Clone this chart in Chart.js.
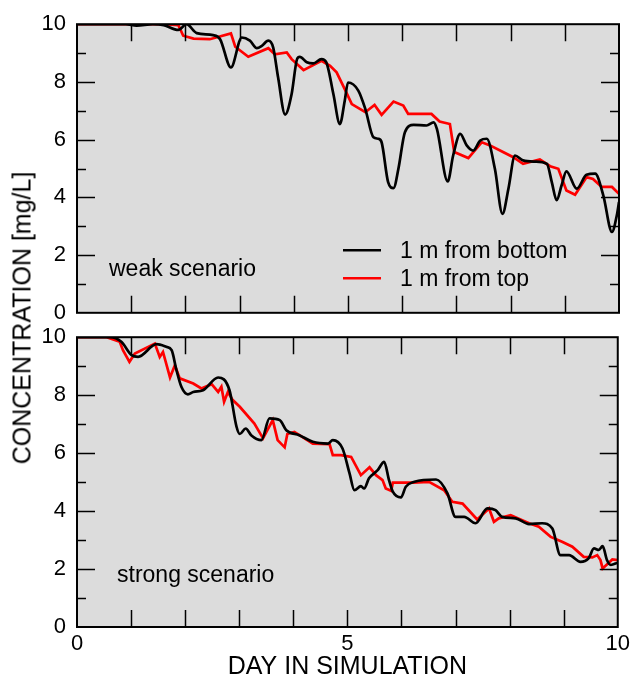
<!DOCTYPE html>
<html>
<head>
<meta charset="utf-8">
<script src="https://cdn.jsdelivr.net/npm/chart.js@4/dist/chart.umd.min.js"></script>
<style>
  body { margin: 0; background: #fff; }
  #wrap { position: relative; width: 634px; height: 685px; font-family: 'Liberation Sans', Arial, sans-serif; }
  canvas { position: absolute; left: 0; }
  #c1 { top: 0; }
  #c2 { top: 313px; }
  #ytitle {
    position: absolute; left: 22px; top: 318px; white-space: nowrap;
    font-size: 25px; color: #000;
    transform: translate(-50%, -50%) rotate(-90deg);
  }
</style>
</head>
<body>
<div id="wrap">
  <canvas id="c1" width="634" height="337"></canvas>
  <canvas id="c2" width="634" height="372"></canvas>
  <div id="ytitle">CONCENTRATION [mg/L]</div>
</div>
<script>
// weak scenario, 1 m from bottom
const weakBottomDays = [0, 0.9, 1.1, 1.4, 1.6, 1.87, 2.02, 2.21, 2.51, 2.64, 2.84, 3.04, 3.19, 3.32, 3.41, 3.53, 3.62, 3.71, 3.84, 3.96, 4.06, 4.11, 4.24, 4.36, 4.51, 4.6, 4.73, 4.85, 4.94, 5.0, 5.19, 5.32, 5.47, 5.56, 5.62, 5.74, 5.84, 5.93, 6.05, 6.21, 6.45, 6.58, 6.64, 6.84, 6.94, 7.07, 7.19, 7.31, 7.44, 7.56, 7.71, 7.85, 7.96, 8.08, 8.23, 8.45, 8.67, 8.76, 8.85, 8.94, 9.03, 9.22, 9.4, 9.56, 9.71, 9.87, 9.96, 10.0]
const weakBottomConc = [10, 10, 9.95, 10, 9.97, 9.8, 10.0, 9.69, 9.62, 9.48, 8.5, 9.54, 9.43, 9.17, 9.25, 9.43, 9.19, 8.16, 6.87, 7.58, 8.79, 8.87, 8.68, 8.64, 8.79, 8.68, 7.58, 6.54, 7.35, 7.98, 7.7, 7.06, 6.08, 6.03, 5.91, 4.53, 4.32, 4.99, 6.26, 6.51, 6.49, 6.6, 6.37, 4.55, 5.45, 6.2, 5.8, 5.62, 5.97, 6.03, 4.99, 3.43, 4.3, 5.45, 5.28, 5.24, 5.16, 4.53, 3.9, 4.41, 4.9, 4.3, 4.78, 4.82, 4.07, 2.8, 3.38, 3.84]

// weak scenario, 1 m from top
const weakTopDays = [0, 1.6, 1.87, 1.96, 2.15, 2.45, 2.84, 2.92, 3.16, 3.53, 3.65, 3.87, 3.96, 4.18, 4.51, 4.67, 4.79, 4.94, 5.07, 5.32, 5.49, 5.62, 5.84, 6.02, 6.11, 6.54, 6.69, 6.88, 6.96, 7.22, 7.47, 7.62, 7.86, 8.05, 8.23, 8.54, 8.73, 8.88, 9.03, 9.19, 9.4, 9.52, 9.68, 9.87, 10.0]
const weakTopConc = [10, 10, 9.97, 9.6, 9.5, 9.48, 9.68, 9.22, 8.87, 9.17, 8.96, 9.02, 8.79, 8.41, 8.73, 8.56, 8.33, 7.75, 7.23, 6.95, 7.2, 6.86, 7.32, 7.18, 6.89, 6.89, 6.63, 6.54, 5.57, 5.36, 5.91, 5.8, 5.57, 5.39, 5.16, 5.31, 5.08, 4.99, 4.24, 4.09, 4.7, 4.64, 4.36, 4.36, 4.12]

// strong scenario, 1 m from bottom
const strongBottomDays = [0, 0.61, 0.82, 1.01, 1.13, 1.47, 1.65, 1.75, 1.84, 1.93, 2.05, 2.15, 2.33, 2.61, 2.82, 2.95, 3.01, 3.12, 3.22, 3.41, 3.56, 3.75, 3.87, 4.11, 4.36, 4.64, 4.73, 4.91, 5.04, 5.13, 5.25, 5.31, 5.4, 5.56, 5.68, 5.77, 5.84, 5.99, 6.08, 6.24, 6.64, 6.85, 7.0, 7.16, 7.37, 7.59, 7.74, 7.86, 8.11, 8.36, 8.6, 8.79, 8.94, 9.1, 9.31, 9.46, 9.56, 9.65, 9.72, 9.8, 9.87, 10.0]
const strongBottomConc = [10, 10, 9.84, 9.38, 9.32, 9.76, 9.67, 9.55, 8.86, 8.29, 8.03, 8.11, 8.17, 8.61, 8.17, 6.91, 6.66, 6.85, 6.62, 6.45, 7.2, 7.14, 6.79, 6.62, 6.39, 6.33, 6.45, 6.16, 5.3, 4.72, 4.86, 4.78, 5.13, 5.41, 5.7, 5.07, 4.67, 4.47, 4.84, 5.01, 5.09, 4.61, 3.8, 3.8, 3.58, 4.09, 4.03, 3.8, 3.75, 3.55, 3.58, 3.4, 2.48, 2.48, 2.25, 2.37, 2.71, 2.66, 2.79, 2.31, 2.14, 2.22]

// strong scenario, 1 m from top
const strongTopDays = [0, 0.55, 0.79, 0.85, 0.97, 1.07, 1.44, 1.53, 1.59, 1.72, 1.81, 1.9, 2.15, 2.3, 2.49, 2.61, 2.67, 2.72, 2.79, 2.88, 3.01, 3.28, 3.44, 3.62, 3.71, 3.84, 3.89, 4.02, 4.36, 4.67, 4.73, 4.88, 5.07, 5.25, 5.41, 5.53, 5.65, 5.71, 5.81, 5.84, 6.21, 6.51, 6.79, 6.94, 7.13, 7.4, 7.62, 7.71, 7.8, 8.02, 8.36, 8.54, 8.76, 8.97, 9.16, 9.37, 9.53, 9.62, 9.68, 9.72, 9.9, 10.0]
const strongTopConc = [10, 10, 9.84, 9.55, 9.15, 9.44, 9.78, 9.32, 9.49, 8.61, 9.03, 8.58, 8.4, 8.23, 8.38, 8.11, 8.29, 7.77, 8.11, 7.83, 7.6, 7.02, 6.51, 7.14, 6.45, 6.2, 6.66, 6.73, 6.33, 6.31, 5.93, 5.93, 5.87, 5.24, 5.51, 5.24, 5.07, 4.78, 4.7, 4.98, 4.98, 5.01, 4.72, 4.32, 4.26, 3.71, 4.09, 3.63, 3.75, 3.86, 3.58, 3.46, 3.11, 2.94, 2.77, 2.42, 2.4, 2.48, 2.31, 2.02, 2.33, 2.31]

const seriesLabels = ['1 m from bottom', '1 m from top']
const seriesColors = ['#000000', '#ff0000']
const panelLabels = ['weak scenario', 'strong scenario']
const xTickLabels = [0, 5, 10]
const yTickLabels = [0, 2, 4, 6, 8, 10]

const FONT = "'Liberation Sans', Arial, sans-serif"
const toPoints = (xs, ys) => xs.map((x, i) => ({ x: x, y: ys[i] }))

// grey plot area, inward ticks, frame, panel label and legend
const panelPlugin = {
  id: 'panel',
  beforeDraw(chart) {
    const { ctx, chartArea: a } = chart
    ctx.save()
    ctx.fillStyle = '#dcdcdc'
    ctx.fillRect(a.left, a.top, a.width, a.height)
    ctx.restore()
  },
  afterDraw(chart, args, opts) {
    const { ctx, chartArea: a, scales } = chart
    ctx.save()
    ctx.strokeStyle = '#000'
    ctx.lineWidth = 1.5
    ctx.beginPath()
    for (const t of scales.x.ticks) {
      if (t.value <= 0 || t.value >= 10) continue
      const px = Math.round(scales.x.getPixelForValue(t.value)) + 0.5
      ctx.moveTo(px, a.bottom); ctx.lineTo(px, a.bottom - 17)
      ctx.moveTo(px, a.top); ctx.lineTo(px, a.top + 17)
    }
    for (const t of scales.y.ticks) {
      if (t.value <= 0 || t.value >= 10) continue
      const py = Math.round(scales.y.getPixelForValue(t.value)) + 0.5
      const len = t.value % 2 === 0 ? 18 : 9
      ctx.moveTo(a.left, py); ctx.lineTo(a.left + len, py)
      ctx.moveTo(a.right, py); ctx.lineTo(a.right - len, py)
    }
    ctx.stroke()
    ctx.lineWidth = 2
    ctx.strokeRect(a.left, a.top, a.width, a.height)

    ctx.fillStyle = '#000'
    ctx.font = '23px ' + FONT
    ctx.textBaseline = 'middle'
    ctx.fillText(opts.label, a.left + opts.labelX, a.bottom - opts.labelY)

    if (opts.legend) {
      chart.data.datasets.forEach((ds, i) => {
        const y = a.top + 226 + i * 28
        ctx.strokeStyle = ds.borderColor
        ctx.lineWidth = 2.5
        ctx.beginPath()
        ctx.moveTo(a.left + 266, y); ctx.lineTo(a.left + 304, y)
        ctx.stroke()
        ctx.fillStyle = '#000'
        ctx.fillText(ds.label, a.left + 323, y + 1)
      })
    }
    ctx.restore()
  },
}

const makeChart = (id, bottomDays, bottomConc, topDays, topConc, panel) => {
  const ctx = document.getElementById(id)
  return new Chart(ctx, {
    type: 'line',
    data: {
      datasets: [
        {
          label: seriesLabels[0],
          data: toPoints(bottomDays, bottomConc),
          borderColor: seriesColors[0],
          borderWidth: 2.7,
          pointRadius: 0,
          cubicInterpolationMode: 'monotone',
        },
        {
          label: seriesLabels[1],
          data: toPoints(topDays, topConc),
          borderColor: seriesColors[1],
          borderWidth: 2.7,
          pointRadius: 0,
          tension: 0,
        },
      ],
    },
    options: {
      responsive: false,
      animation: false,
      events: [],
      layout: { padding: panel.padding },
      plugins: {
        legend: { display: false },
        tooltip: { enabled: false },
        panel: panel,
      },
      scales: {
        x: {
          type: 'linear',
          min: 0,
          max: 10,
          display: panel.showX,
          grid: { display: false, drawTicks: false },
          border: { display: false },
          ticks: {
            stepSize: 1,
            color: '#000',
            padding: 4,
            maxRotation: 0,
            autoSkip: false,
            font: { family: FONT, size: 22 },
            callback: (v) => (xTickLabels.includes(v) ? String(v) : ''),
          },
          title: {
            display: true,
            text: 'DAY IN SIMULATION',
            color: '#000',
            font: { family: FONT, size: 25 },
            padding: { top: 0, bottom: 3 },
          },
          afterFit: (s) => { if (panel.showX) s.height = 58 },
        },
        y: {
          min: 0,
          max: 10,
          grid: { display: false, drawTicks: false },
          border: { display: false },
          ticks: {
            stepSize: 1,
            color: '#000',
            padding: 11,
            autoSkip: false,
            font: { family: FONT, size: 22 },
            callback: (v) => (yTickLabels.includes(v) ? String(v) : ''),
          },
          afterFit: (s) => { s.width = 77 },
        },
      },
    },
    plugins: [panelPlugin],
  })
}

makeChart('c1', weakBottomDays, weakBottomConc, weakTopDays, weakTopConc, {
  label: panelLabels[0], labelX: 32, labelY: 43, legend: true, showX: false,
  padding: { top: 21, right: 15, bottom: 0, left: 0 },
})
makeChart('c2', strongBottomDays, strongBottomConc, strongTopDays, strongTopConc, {
  label: panelLabels[1], labelX: 40, labelY: 51, legend: false, showX: true,
  padding: { top: 0, right: 15, bottom: 0, left: 0 },
})
</script>
</body>
</html>
